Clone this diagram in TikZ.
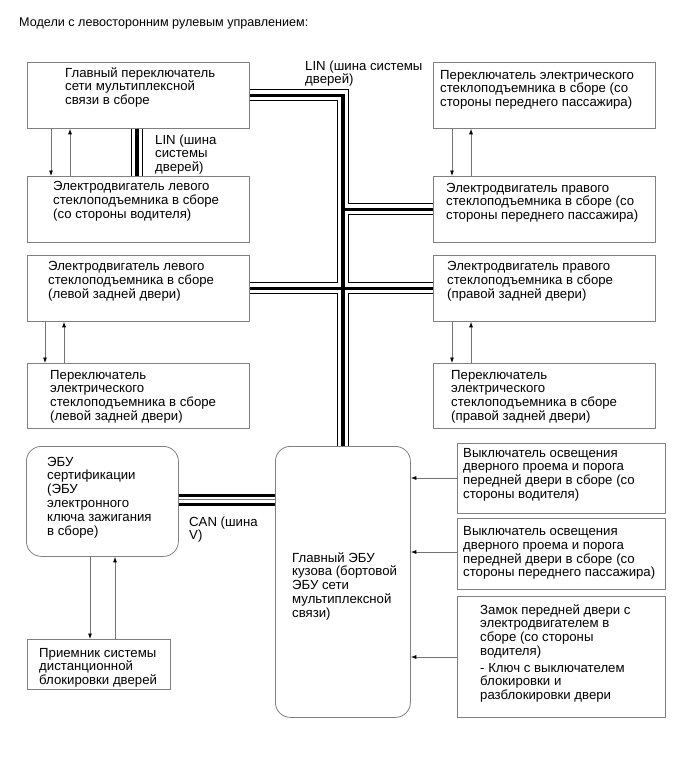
\documentclass[tikz,border=0pt]{standalone}
\usepackage{fontspec}
\setmainfont{Liberation Sans}
\usetikzlibrary{arrows.meta}
\begin{document}
\begin{tikzpicture}[x=1pt,y=-1pt,
  box/.style={draw=black!50, line width=0.8pt, anchor=north west, inner sep=0pt, fill=white},
  txt/.style={anchor=base west, align=left, inner sep=0pt, font=\fontsize{13.2}{13.8}\selectfont},
  ttl/.style={anchor=base west, inner sep=0pt, font=\fontsize{12.6}{13.8}\selectfont},
  sig/.style={draw=black!55, line width=0.8pt, -{Latex[length=5.5pt,width=4pt,color=black]}},
  busA/.style={line width=12pt, black, line join=miter},
  busB/.style={line width=10pt, white, line join=miter},
  busC/.style={line width=3.5pt, black, line join=miter},
  canthick/.style={line width=3pt, black},
  canthin/.style={line width=0.9pt, black!55},
]
\path[use as bounding box] (0,0) rectangle (689,761);

% boxes
\node[box, minimum width=222pt, minimum height=66pt] (L1) at (27,62) {};
\node[box, minimum width=222pt, minimum height=66pt] (L2) at (27,176) {};
\node[box, minimum width=222pt, minimum height=66pt] (L3) at (27,255) {};
\node[box, minimum width=222pt, minimum height=65pt] (L4) at (27,363) {};
\node[box, minimum width=222pt, minimum height=66pt] (R1) at (433,62) {};
\node[box, minimum width=222pt, minimum height=66pt] (R2) at (433,176) {};
\node[box, minimum width=222pt, minimum height=66pt] (R3) at (433,255) {};
\node[box, minimum width=222pt, minimum height=65pt] (R4) at (433,363) {};
\node[box, rounded corners=15pt, minimum width=152pt, minimum height=110pt] (Cert) at (26,446) {};
\node[box, minimum width=143pt, minimum height=50pt] (Recv) at (27,639) {};
\node[box, rounded corners=15pt, minimum width=135pt, minimum height=271pt] (ECU) at (275,446) {};
\node[box, minimum width=208pt, minimum height=70pt] (B1) at (457,443) {};
\node[box, minimum width=208pt, minimum height=71pt] (B2) at (457,518) {};
\node[box, minimum width=208pt, minimum height=121pt] (B3) at (457,596) {};

% LIN bus
\foreach \st in {busA,busB,busC}{
  \draw[\st] (L1.east) -- (L1.east -| ECU.north) -- (ECU.north);
  \draw[\st] (ECU.north |- R2.west) -- (R2.west);
  \draw[\st] (L3.east) -- (R3.west);
  \draw[\st] (137,0 |- L1.south) -- (137,0 |- L2.north);
}

% CAN bus
\draw[canthick] (Cert.east |- 0,495) -- (ECU.west |- 0,495);
\draw[canthin] (Cert.east |- 0,499.5) -- (ECU.west |- 0,499.5);
\draw[canthick] (Cert.east |- 0,504) -- (ECU.west |- 0,504);

% signal arrows
\draw[sig] (51,0 |- L1.south) -- (51,0 |- L2.north);
\draw[sig] (70,0 |- L2.north) -- (70,0 |- L1.south);
\draw[sig] (452,0 |- R1.south) -- (452,0 |- R2.north);
\draw[sig] (471,0 |- R2.north) -- (471,0 |- R1.south);
\draw[sig] (45,0 |- L3.south) -- (45,0 |- L4.north);
\draw[sig] (64,0 |- L4.north) -- (64,0 |- L3.south);
\draw[sig] (452,0 |- R3.south) -- (452,0 |- R4.north);
\draw[sig] (471,0 |- R4.north) -- (471,0 |- R3.south);
\draw[sig] (90,0 |- Cert.south) -- (90,0 |- Recv.north);
\draw[sig] (115,0 |- Recv.north) -- (115,0 |- Cert.south);
\draw[sig] (B1.west |- 0,478) -- (ECU.east |- 0,478);
\draw[sig] (B2.west |- 0,552) -- (ECU.east |- 0,552);
\draw[sig] (B3.west |- 0,657) -- (ECU.east |- 0,657);

% texts (anchor = baseline of the last line)
\node[ttl] (title) at (19,26) {Модели с левосторонним рулевым управлением:};
\node[txt] (tL1) at (65,104.6) {Главный переключатель\\сети мультиплексной\\связи в сборе};
\node[txt] (linA) at (155,171.6) {LIN (шина\\системы\\дверей)};
\node[txt] (tL2) at (53,218.1) {Электродвигатель левого\\стеклоподъемника в сборе\\(со стороны водителя)};
\node[txt] (linB) at (305,83.8) {LIN (шина системы\\дверей)};
\node[txt] (tR1) at (440,106.6) {Переключатель электрического\\стеклоподъемника в сборе (со\\стороны переднего пассажира)};
\node[txt] (tR2) at (446,219.6) {Электродвигатель правого\\стеклоподъемника в сборе (со\\стороны переднего пассажира)};
\node[txt] (tL3) at (48,298.1) {Электродвигатель левого\\стеклоподъемника в сборе\\(левой задней двери)};
\node[txt] (tL4) at (50,420.4) {Переключатель\\электрического\\стеклоподъемника в сборе\\(левой задней двери)};
\node[txt] (tR3) at (447,298.1) {Электродвигатель правого\\стеклоподъемника в сборе\\(правой задней двери)};
\node[txt] (tR4) at (451,420.4) {Переключатель\\электрического\\стеклоподъемника в сборе\\(правой задней двери)};
\node[txt] (tCert) at (47,535) {ЭБУ\\сертификации\\(ЭБУ\\электронного\\ключа зажигания\\в сборе)};
\node[txt] (can) at (189,539.8) {CAN (шина\\V)};
\node[txt] (tRecv) at (39,684.6) {Приемник системы\\дистанционной\\блокировки дверей};
\node[txt] (tECU) at (292,617.2) {Главный ЭБУ\\кузова (бортовой\\ЭБУ сети\\мультиплексной\\связи)};
\node[txt] (tB1) at (463,498.4) {Выключатель освещения\\дверного проема и порога\\передней двери в сборе (со\\стороны водителя)};
\node[txt] (tB2) at (463,576.9) {Выключатель освещения\\дверного проема и порога\\передней двери в сборе (со\\стороны переднего пассажира)};
\node[txt] (tB3a) at (480,655.5) {Замок передней двери с\\электродвигателем в\\сборе (со стороны\\водителя)};
\node[txt] (tB3b) at (480,699.6) {- Ключ с выключателем\\блокировки и\\разблокировки двери};
\end{tikzpicture}
\end{document}
